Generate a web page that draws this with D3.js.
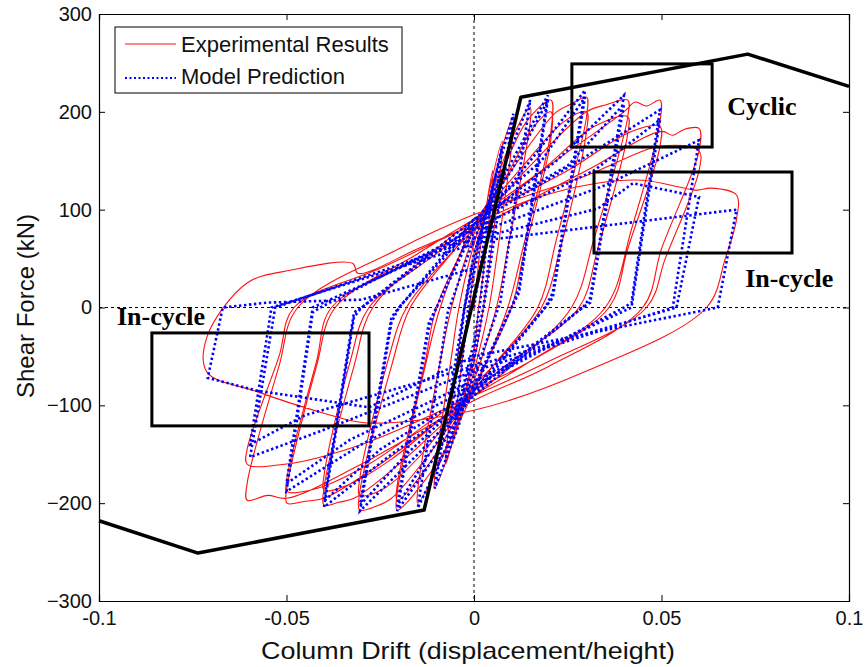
<!DOCTYPE html>
<html><head><meta charset="utf-8">
<script src="https://cdn.jsdelivr.net/npm/d3@7/dist/d3.min.js"></script>
<style>body{margin:0;background:#fff}svg{display:block}</style>
</head><body>
<script>
const xTicks = [-0.1, -0.05, 0, 0.05, 0.1];
const xTickLabels = ["-0.1", "-0.05", "0", "0.05", "0.1"];
const yTicks = [-300, -200, -100, 0, 100, 200, 300];
const seriesNames = ["Experimental Results", "Model Prediction"];

// backbone (black)
const backbone = [[-0.1,-218],[-0.0736,-251],[-0.0133,-207],[0.0125,215],[0.073,259],[0.1,226]];

// annotation boxes [x0, x1, yTop, yBottom] in data units
const boxes = [[0.0261,0.0635,249,164],[0.032,0.0848,138.5,55.7],[-0.0859,-0.028,-26,-121]];
const notes = [["Cyclic",0.0675,197],["In-cycle",0.0723,21],["In-cycle",-0.0952,-18]];

// experimental cycles (drift, kN)
const red1 = [[0,0],[0.002,70],[0.005,140],[0.005,132],[0.002,20],[0.0012,0],[0,-45],[-0.003,-95],[-0.005,-125],[-0.005,-118],[-0.002,-20],[-0.0012,0],[0,40]];
const red2 = [[0.003,100],[0.0075,170],[0.0075,160],[0.004,40],[0.0025,0],[0,-55],[-0.004,-110],[-0.0075,-160],[-0.0075,-150],[-0.004,-40],[-0.0025,0],[0,55]];
const red3 = [[0.004,110],[0.008,170],[0.0105,195],[0.0105,182],[0.006,50],[0.004,0],[0,-65],[-0.005,-130],[-0.0105,-185],[-0.0105,-172],[-0.006,-50],[-0.004,0],[0,65]];
const red4 = [[0.005,120],[0.011,180],[0.015,205],[0.015,190],[0.009,60],[0.006,0],[0,-75],[-0.008,-150],[-0.015,-200],[-0.015,-186],[-0.009,-55],[-0.006,0],[0,75]];
const red5 = [[0.006,125],[0.014,190],[0.0205,212],[0.0205,180],[0.013,60],[0.009,0],[0,-85],[-0.01,-160],[-0.0205,-207],[-0.0205,-190],[-0.013,-60],[-0.009,0],[0,85]];
const red6 = [[0.008,130],[0.016,185],[0.0205,200],[0.0205,172],[0.013,50],[0.010,0],[0,-80],[-0.012,-160],[-0.0205,-197],[-0.0205,-182],[-0.013,-55],[-0.010,0],[0,80]];
const red7 = [[0.01,140],[0.022,200],[0.026,208],[0.030,215],[0.030,195],[0.022,70],[0.017,0],[0.005,-60],[0,-85],[-0.012,-150],[-0.022,-195],[-0.026,-203],[-0.0305,-207],[-0.0305,-190],[-0.022,-60],[-0.017,0],[-0.005,60],[0,85]];
const red8 = [[0.012,140],[0.024,190],[0.030,200],[0.030,180],[0.023,60],[0.018,0],[0.005,-60],[0,-80],[-0.014,-150],[-0.024,-185],[-0.0305,-192],[-0.0305,-176],[-0.023,-55],[-0.018,0],[-0.005,60],[0,80]];
const red9 = [[0.015,145],[0.030,200],[0.035,207],[0.041,212],[0.041,195],[0.032,70],[0.026,0],[0.01,-60],[0,-90],[-0.02,-160],[-0.032,-195],[-0.036,-199],[-0.040,-202],[-0.040,-185],[-0.032,-60],[-0.027,0],[-0.01,60],[0,90]];
const red10 = [[0.018,140],[0.032,185],[0.041,195],[0.041,178],[0.033,60],[0.028,0],[0.01,-55],[0,-85],[-0.022,-155],[-0.034,-182],[-0.040,-187],[-0.040,-172],[-0.033,-55],[-0.028,0],[-0.01,55],[0,85]];
const red11 = [[0.02,145],[0.040,200],[0.043,210],[0.046,206],[0.0496,212],[0.0496,190],[0.042,80],[0.035,0],[0.015,-55],[0,-90],[-0.025,-160],[-0.040,-195],[-0.045,-198],[-0.0499,-200],[-0.0499,-185],[-0.042,-60],[-0.037,0],[-0.015,55],[0,90]];
const red12 = [[0.025,140],[0.042,180],[0.0496,185],[0.0496,165],[0.041,60],[0.036,0],[0.015,-55],[0,-85],[-0.028,-160],[-0.042,-185],[-0.0499,-188],[-0.0499,-175],[-0.042,-55],[-0.038,0],[-0.015,50],[0,80]];
const red13 = [[0.03,140],[0.05,180],[0.053,176],[0.056,182],[0.060,183],[0.060,160],[0.050,60],[0.045,0],[0.02,-60],[0,-95],[-0.03,-160],[-0.05,-195],[-0.055,-192],[-0.0605,-197],[-0.0605,-180],[-0.052,-60],[-0.047,0],[-0.02,60],[0,95]];
const red14 = [[0.03,135],[0.05,165],[0.060,160],[0.060,140],[0.051,50],[0.046,0],[0.02,-55],[0,-90],[-0.03,-140],[-0.05,-160],[-0.0605,-160],[-0.0605,-145],[-0.052,-50],[-0.048,0],[-0.025,40],[0,85]];
const red15 = [[0.015,110],[0.0328,127],[0.045,130],[0.0595,120],[0.063,122],[0.070,115],[0.070,90],[0.067,50],[0.062,0],[0.03,-65],[0,-105],[-0.0285,-118],[-0.04,-108],[-0.0579,-86],[-0.0712,-66],[-0.0712,-30],[-0.0605,25],[-0.049,38],[-0.0323,45],[-0.031,35],[-0.015,60],[0,85]];

// model cycles (drift, kN)
const blue1 = [[0,0],[0.005,125],[0.0015,0],[0,-35],[-0.005,-115],[-0.0015,0],[0,35]];
const blue2 = [[0.0075,165],[0.0025,0],[0,-45],[-0.0075,-155],[-0.0025,0],[0,45]];
const blue3 = [[0.004,110],[0.0105,198],[0.003,10],[0,-55],[-0.004,-120],[-0.0105,-185],[-0.003,-10],[0,55]];
const blue4 = [[0.006,125],[0.015,212],[0.007,5],[0,-70],[-0.007,-140],[-0.015,-205],[-0.007,-5],[0,70]];
const blue5 = [[0.008,135],[0.0197,217],[0.012,20],[0.010,0],[0,-85],[-0.010,-150],[-0.0205,-208],[-0.012,-20],[-0.010,0],[0,85]];
const blue6 = [[0.010,140],[0.0197,212],[0.012,15],[0.010,0],[0,-80],[-0.012,-150],[-0.0205,-203],[-0.012,-15],[-0.010,0],[0,80]];
const blue7 = [[0.015,150],[0.0296,222],[0.021,15],[0.019,0],[0,-90],[-0.015,-150],[-0.0304,-208],[-0.022,-15],[-0.020,0],[0,90]];
const blue8 = [[0.018,150],[0.0296,215],[0.021,10],[0.019,0],[0,-85],[-0.018,-150],[-0.0304,-202],[-0.022,-10],[-0.020,0],[0,85]];
const blue9 = [[0.022,150],[0.040,217],[0.031,10],[0.029,0],[0,-90],[-0.022,-150],[-0.040,-204],[-0.032,-10],[-0.030,0],[0,90]];
const blue10 = [[0.025,145],[0.040,208],[0.031,5],[0.029,0],[0,-85],[-0.025,-145],[-0.040,-198],[-0.032,-5],[-0.030,0],[0,85]];
const blue11 = [[0.028,150],[0.0496,202],[0.042,5],[0.040,0],[0,-80],[-0.030,-140],[-0.050,-188],[-0.043,-5],[-0.041,0],[0,80]];
const blue12 = [[0.032,140],[0.0496,192],[0.042,0],[0,-75],[-0.033,-135],[-0.050,-180],[-0.043,0],[0,75]];
const blue13 = [[0.035,125],[0.060,171],[0.053,0],[0,-65],[-0.040,-125],[-0.0597,-153],[-0.053,0],[0,70]];
const blue14 = [[0.033,101],[0.0424,127],[0.060,113],[0.054,0],[0,-60],[-0.045,-110],[-0.0597,-140],[-0.054,0],[0,65]];
const blue15 = [[0.0035,69],[0.07,100],[0.065,0],[0,-50],[-0.028,-102],[-0.0579,-85],[-0.071,-72],[-0.067,0],[-0.055,5],[-0.03,8],[0,40]];

const redCycles = [red1,red2,red3,red4,red5,red6,red7,red8,red9,red10,red11,red12,red13,red14,red15];
const blueCycles = [blue1,blue2,blue3,blue4,blue5,blue6,blue7,blue8,blue9,blue10,blue11,blue12,blue13,blue14,blue15];

const W = 865, H = 667;
const x = d3.scaleLinear().domain([-0.1, 0.1]).range([99, 849]);
const y = d3.scaleLinear().domain([-300, 300]).range([601, 14]);
const FONT = "'Liberation Sans', Arial, sans-serif";

const svg = d3.select("body").append("svg").attr("width", W).attr("height", H)
  .attr("font-family", FONT);

// zero reference lines
svg.append("line").attr("x1", x(-0.1)).attr("x2", x(0.1)).attr("y1", y(0)).attr("y2", y(0))
  .attr("stroke", "#000").attr("stroke-width", 1).attr("stroke-dasharray", "3,3");
svg.append("line").attr("x1", x(0)).attr("x2", x(0)).attr("y1", y(300)).attr("y2", y(-300))
  .attr("stroke", "#000").attr("stroke-width", 1).attr("stroke-dasharray", "3,3");

const lineSmooth = d3.line().x(d => x(d[0])).y(d => y(d[1])).curve(d3.curveCatmullRom.alpha(0.5));
const line = d3.line().x(d => x(d[0])).y(d => y(d[1]));

svg.append("path").datum(redCycles.flat()).attr("d", lineSmooth)
  .attr("fill", "none").attr("stroke", "#ff1010").attr("stroke-width", 1.1).attr("stroke-linejoin", "round");
svg.append("path").datum(blueCycles.flat()).attr("d", line)
  .attr("fill", "none").attr("stroke", "#0000ff").attr("stroke-width", 2.6).attr("stroke-dasharray", "2.4,2.6");

svg.append("path").datum(backbone).attr("d", line)
  .attr("fill", "none").attr("stroke", "#000").attr("stroke-width", 3.5).attr("stroke-linejoin", "round");

svg.selectAll("rect.box").data(boxes).join("rect").attr("class", "box")
  .attr("x", d => x(d[0])).attr("y", d => y(d[2]))
  .attr("width", d => x(d[1]) - x(d[0])).attr("height", d => y(d[3]) - y(d[2]))
  .attr("fill", "none").attr("stroke", "#000").attr("stroke-width", 3);

svg.selectAll("text.note").data(notes).join("text").attr("class", "note")
  .attr("x", d => x(d[1])).attr("y", d => y(d[2]))
  .attr("font-family", "'Liberation Serif', 'Times New Roman', serif").attr("font-weight", "bold")
  .attr("font-size", 26).attr("fill", "#000").text(d => d[0]);

// axes (box with inward ticks)
const gx = svg.append("g").attr("transform", `translate(0,${y(-300)})`)
  .call(d3.axisBottom(x).tickValues(xTicks).tickSize(-6).tickPadding(13).tickFormat((d, i) => xTickLabels[i]));
const gxt = svg.append("g").attr("transform", `translate(0,${y(300)})`)
  .call(d3.axisTop(x).tickValues(xTicks).tickSize(-6).tickFormat(""));
const gy = svg.append("g").attr("transform", `translate(${x(-0.1)},0)`)
  .call(d3.axisLeft(y).tickValues(yTicks).tickSize(-6).tickPadding(7));
const gyr = svg.append("g").attr("transform", `translate(${x(0.1)},0)`)
  .call(d3.axisRight(y).tickValues(yTicks).tickSize(-6).tickFormat(""));
[gx, gxt, gy, gyr].forEach(g => {
  g.select(".domain").attr("stroke", "#000").attr("stroke-width", 1.2);
  g.selectAll(".tick line").attr("stroke", "#000");
  g.selectAll("text").attr("font-size", 20).attr("fill", "#111").attr("font-family", FONT);
});
gx.selectAll(".tick text").attr("dy", "0.55em");

svg.append("text").attr("x", 468).attr("y", 659).attr("text-anchor", "middle")
  .attr("font-size", 24).attr("fill", "#111")
  .attr("textLength", 414).attr("lengthAdjust", "spacingAndGlyphs")
  .text("Column Drift (displacement/height)");
svg.append("text").attr("transform", "translate(34,306) rotate(-90)").attr("text-anchor", "middle")
  .attr("font-size", 24).attr("fill", "#111").text("Shear Force (kN)");

// legend
const lg = svg.append("g");
lg.append("rect").attr("x", 115).attr("y", 27).attr("width", 287).attr("height", 66)
  .attr("fill", "#fff").attr("stroke", "#000").attr("stroke-width", 1);
lg.append("line").attr("x1", 125).attr("x2", 176).attr("y1", 44).attr("y2", 44)
  .attr("stroke", "#ff1010").attr("stroke-width", 1.2);
lg.append("line").attr("x1", 125).attr("x2", 176).attr("y1", 78).attr("y2", 78)
  .attr("stroke", "#0000ff").attr("stroke-width", 2).attr("stroke-dasharray", "2,2.5");
lg.selectAll("text").data(seriesNames).join("text")
  .attr("x", 181).attr("y", (d, i) => 44 + i * 32).attr("dy", "0.35em")
  .attr("font-size", 22).attr("fill", "#111").text(d => d);
</script>
</body></html>
